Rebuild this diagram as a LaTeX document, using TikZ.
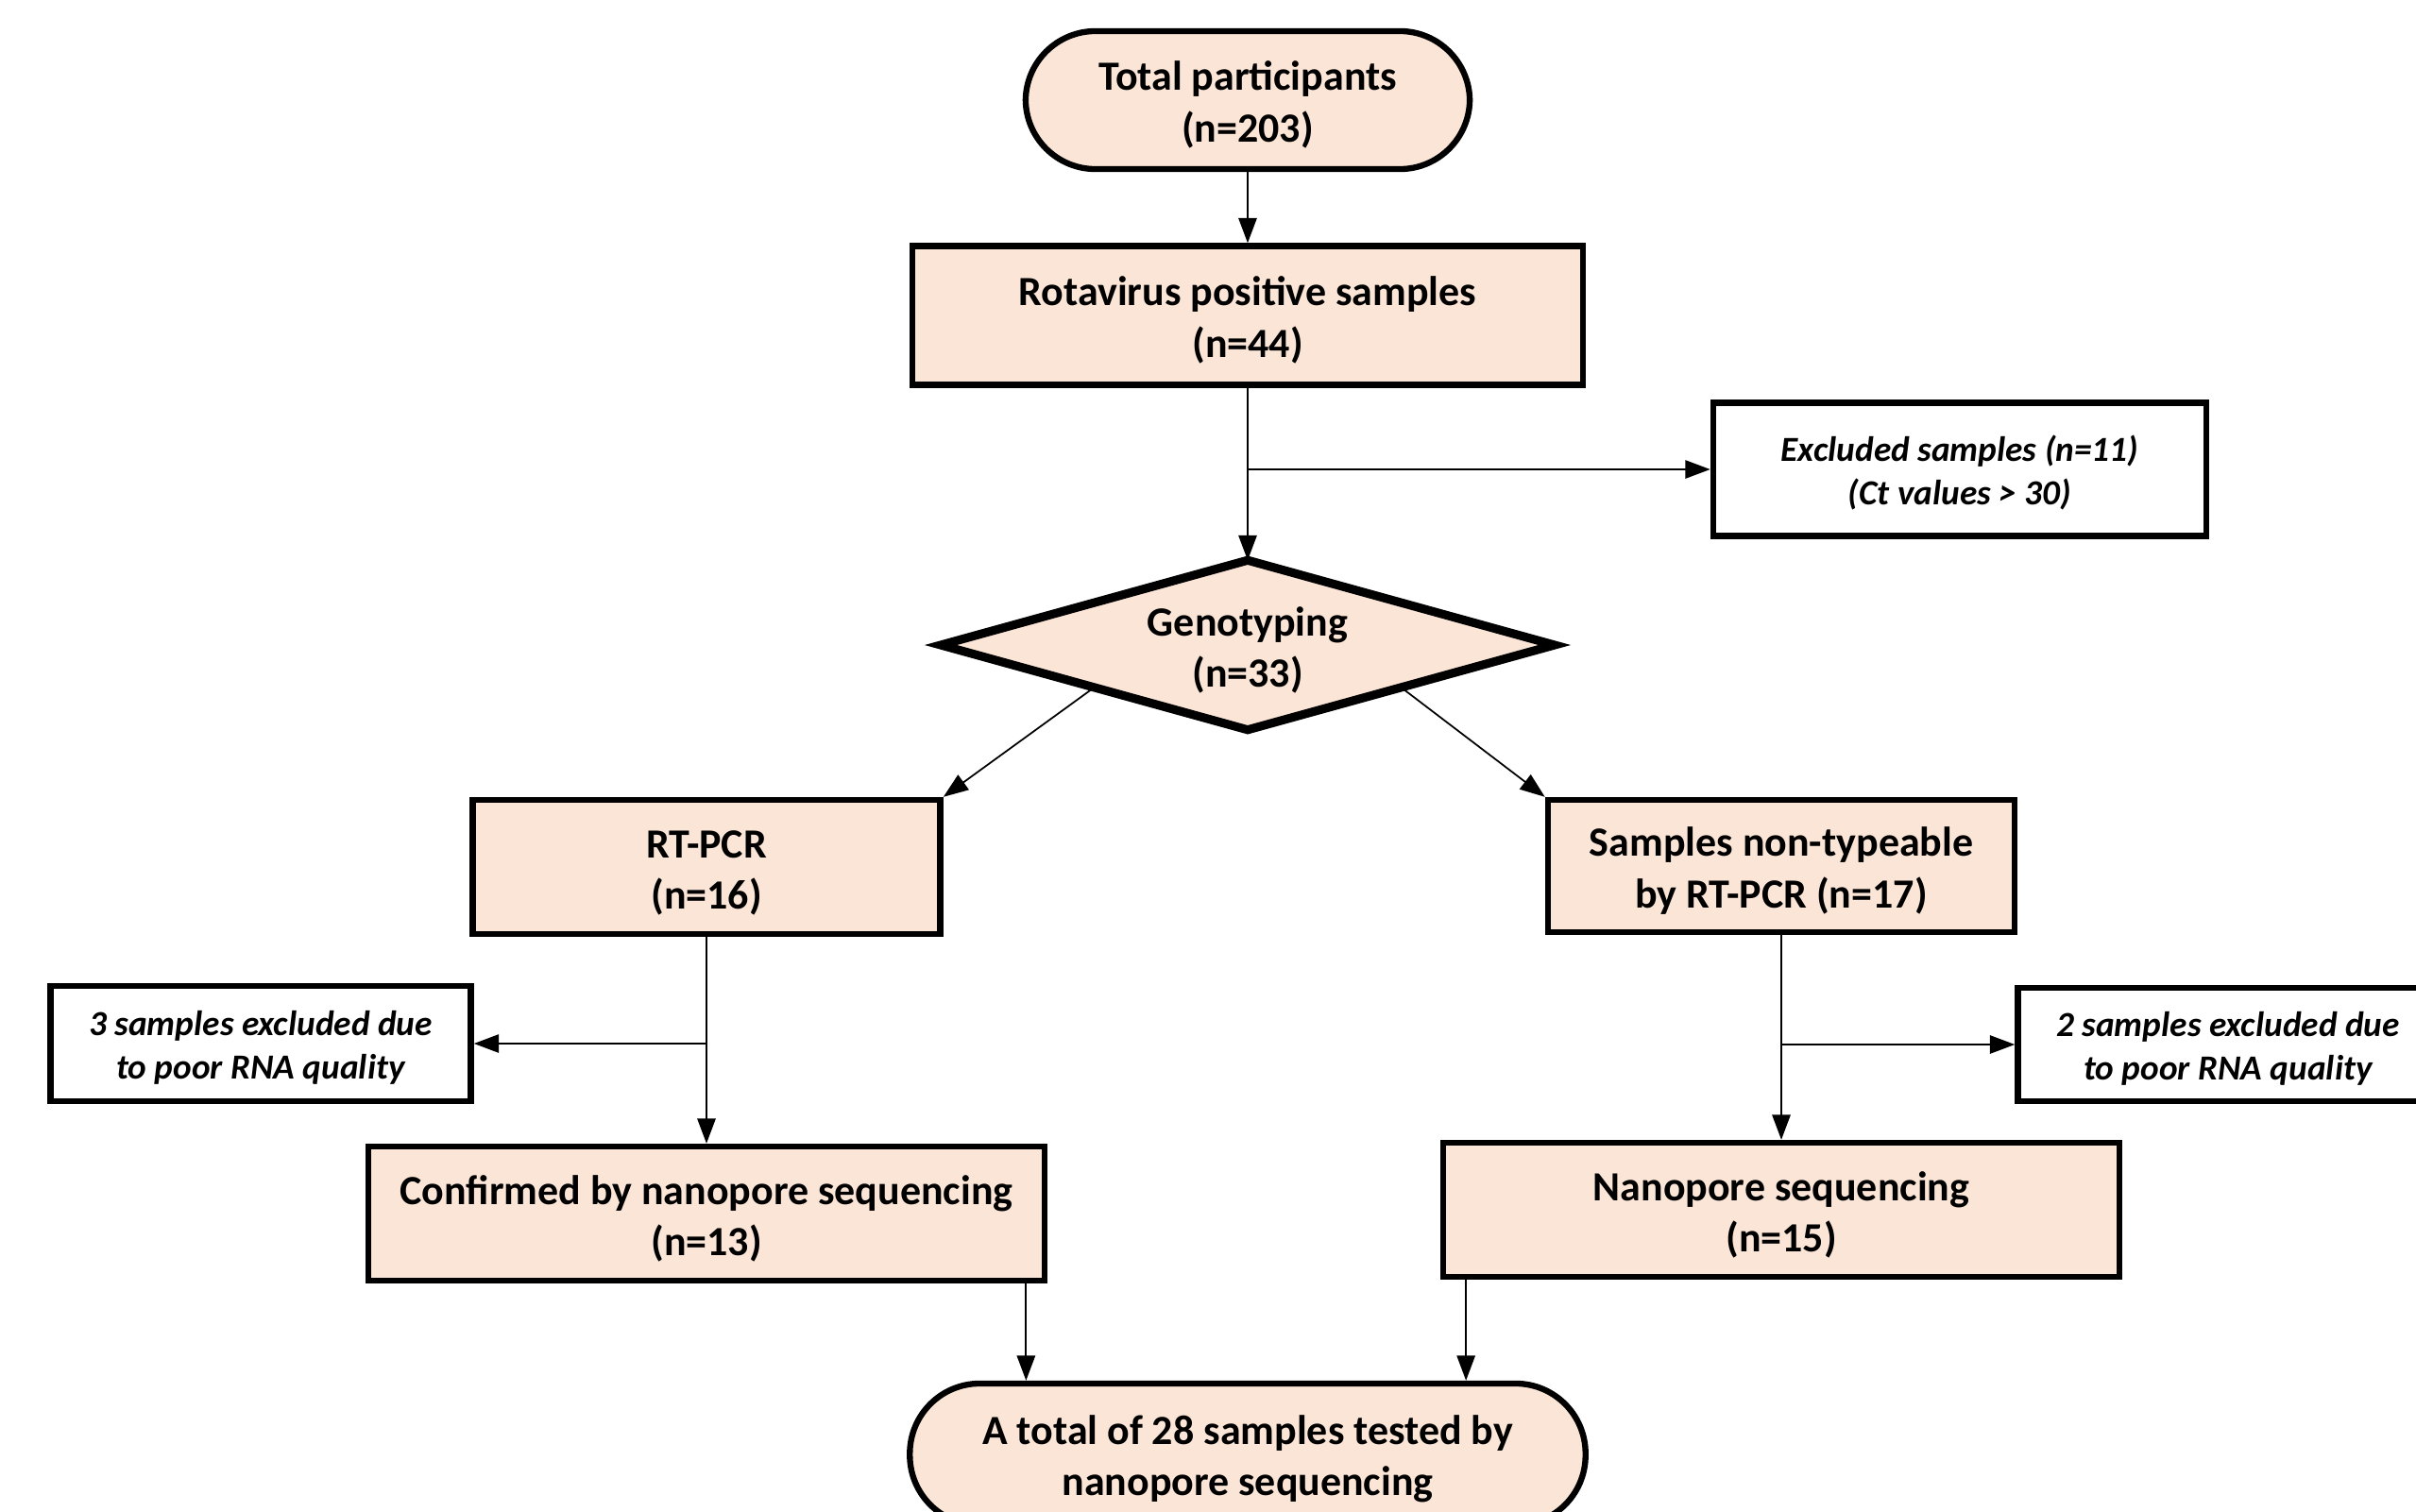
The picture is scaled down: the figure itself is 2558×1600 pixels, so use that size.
\documentclass[tikz,border=0pt]{standalone}
\usepackage{fontspec}
\setmainfont{Carlito}
\usetikzlibrary{arrows.meta,calc}
\definecolor{peach}{HTML}{FBE5D6}
\newcommand{\tsA}{\rule{0pt}{11.6pt}}
\newcommand{\tsB}{\rule{0pt}{9.8pt}}
\begin{document}
\begin{tikzpicture}[x=0.01cm,y=-0.01cm,
  boxtext/.style={align=center, font=\fontsize{12.5}{15.4}\selectfont\bfseries},
  box/.style={boxtext, draw, line width=1.8pt, fill=peach, inner sep=0pt},
  terminal/.style={box, rounded corners=0.74cm},
  exbox/.style={draw, line width=1.8pt, fill=white, inner sep=0pt, align=center,
    font=\fontsize{10.6}{13}\selectfont\bfseries\itshape},
  decision/.style={draw, line width=2.6pt, fill=peach, line join=miter},
  arr/.style={-{Triangle[length=7.5pt,width=5.5pt]}, line width=0.5pt}
]
\useasboundingbox (0,0) rectangle (2558,1600);
\clip (0,0) rectangle (2558,1600);

\node[terminal, minimum width=4.70cm, minimum height=1.46cm] (top) at (1321,106) {\tsA Total participants\\(n=203)};
\node[box, minimum width=7.10cm, minimum height=1.47cm] (rota) at (1321,334) {\tsA Rotavirus positive samples\\(n=44)};
\node[exbox, minimum width=5.22cm, minimum height=1.41cm] (excl) at (2075,497) {\tsB Excluded samples (n=11)\\(Ct values > 30)};

% decision diamond
\node[inner sep=0pt, minimum width=6.48cm, minimum height=1.78cm] (geno) at (1321,683) {};
\filldraw[decision] (geno.west) -- (geno.north) -- (geno.east) -- (geno.south) -- cycle;
\node[boxtext] (genotxt) at (geno.center) {\tsA Genotyping\\(n=33)};
\coordinate (gsw) at ($(geno.west)!0.5!(geno.south)$);
\coordinate (gse) at ($(geno.east)!0.5!(geno.south)$);

\node[box, minimum width=4.95cm, minimum height=1.42cm] (rt) at (748,918) {\tsA RT-PCR\\(n=16)};
\node[box, minimum width=4.94cm, minimum height=1.40cm] (nt) at (1886,917) {\tsA Samples non-typeable\\by RT-PCR (n=17)};
\node[exbox, minimum width=4.45cm, minimum height=1.22cm] (exL) at (276,1105) {\tsB 3 samples excluded due\\to poor RNA quality};
\node[exbox, minimum width=4.45cm, minimum height=1.20cm] (exR) at (2359,1106) {\tsB 2 samples excluded due\\to poor RNA quality};
\node[box, minimum width=7.16cm, minimum height=1.42cm] (conf) at (748,1285) {\tsA Confirmed by nanopore sequencing\\(n=13)};
\node[box, minimum width=7.15cm, minimum height=1.42cm] (nano) at (1886,1281) {\tsA Nanopore sequencing\\(n=15)};
\node[terminal, minimum width=7.15cm, minimum height=1.50cm] (fin) at (1321,1540) {\tsA A total of 28 samples tested by\\nanopore sequencing};

\draw[arr] (top) -- (rota);
\draw[arr] (rota.south) -- (geno.north);
\coordinate (b1) at (rota.south |- excl.west);
\draw[arr] (b1) -- (excl.west);
\draw[arr] (gsw) -- (rt.north east);
\draw[arr] (gse) -- (nt.north west);
\draw[arr] (rt) -- (conf);
\coordinate (b2) at (rt.south |- exL.east);
\draw[arr] (b2) -- (exL.east);
\draw[arr] (nt) -- (nano);
\coordinate (b3) at (nt.south |- exR.west);
\draw[arr] (b3) -- (exR.west);
\coordinate (c1) at ([xshift=-0.23cm]conf.south east);
\draw[arr] (c1) -- (c1 |- fin.north);
\coordinate (c2) at ([xshift=0.27cm]nano.south west);
\draw[arr] (c2) -- (c2 |- fin.north);
\end{tikzpicture}
\end{document}
